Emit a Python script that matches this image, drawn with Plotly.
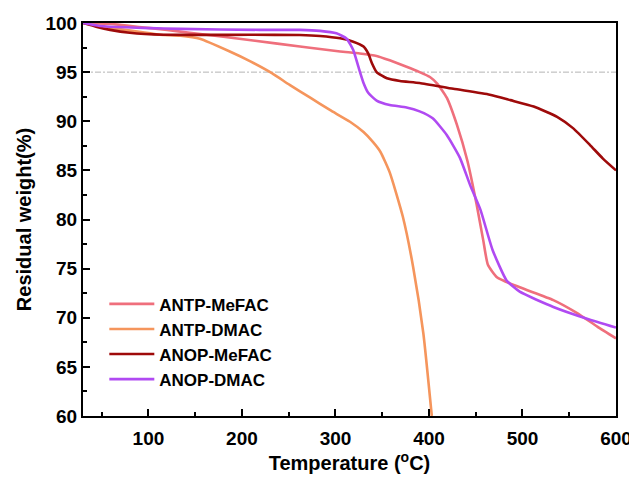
import plotly.graph_objects as go

# ANTP-MeFAC
antp_mefac_x = [30, 60, 90, 120, 144, 180, 214, 262, 283.5, 305, 326, 344, 358, 376, 390, 401, 409, 419, 430, 441, 451, 458, 463, 473, 497, 533, 558, 580, 600]
antp_mefac_y = [100, 99.9, 99.6, 99.3, 99.0, 98.6, 98.2, 97.6, 97.35, 97.1, 96.9, 96.65, 96.2, 95.55, 95.0, 94.5, 93.8, 92.4, 89.6, 86.0, 81.5, 77.9, 75.4, 74.1, 73.1, 71.8, 70.5, 69.1, 67.9]

# ANTP-DMAC
antp_dmac_x = [30, 60, 90, 112, 134, 155, 187, 209, 232, 251, 273, 294, 315.5, 330, 340, 348, 358, 372, 383, 394, 403]
antp_dmac_y = [100, 99.5, 99.1, 98.8, 98.7, 98.4, 97.1, 96.1, 94.9, 93.7, 92.4, 91.15, 89.95, 88.9, 87.9, 86.9, 84.8, 80.3, 75.2, 68.4, 60.0]

# ANOP-MeFAC
anop_mefac_x = [30, 45, 59, 80, 116, 209, 262, 283.5, 305, 319, 330, 335, 339, 344, 355, 369, 390, 426, 465, 487, 512, 537, 554, 572, 586, 600]
anop_mefac_y = [100, 99.6, 99.3, 99.0, 98.8, 98.8, 98.78, 98.68, 98.44, 98.1, 97.6, 96.9, 95.9, 95.0, 94.37, 94.1, 93.9, 93.3, 92.7, 92.15, 91.5, 90.45, 89.3, 87.6, 86.2, 85.0]

# ANOP-DMAC
anop_dmac_x = [30, 48, 134, 219, 262, 283.5, 301, 312, 319, 324.5, 330, 335, 344, 358, 376, 390, 404, 419, 433, 444, 455, 468, 483, 497, 533, 569, 600]
anop_dmac_y = [100, 99.7, 99.4, 99.3, 99.3, 99.2, 98.95, 98.4, 97.25, 95.55, 93.9, 92.9, 92.1, 91.65, 91.4, 91.0, 90.3, 88.6, 86.3, 83.5, 81.0, 76.9, 73.8, 72.65, 71.1, 69.9, 69.0]

series_names = ["ANTP-MeFAC", "ANTP-DMAC", "ANOP-MeFAC", "ANOP-DMAC"]
series_colors = ["#EF6F7C", "#F5955C", "#9E0A0A", "#B04AF2"]

x_ticks = [100, 200, 300, 400, 500, 600]
y_ticks = [60, 65, 70, 75, 80, 85, 90, 95, 100]
ref_level = 95

FONT = "Arial, Liberation Sans, sans-serif"

fig = go.Figure()

# reference dashed line at 95%
fig.add_trace(go.Scatter(x=[30, 600], y=[ref_level, ref_level], mode="lines",
                         line=dict(color="#B5B5B5", width=1, dash="6px,2px,2px,2px"),
                         showlegend=False, hoverinfo="skip"))

data = [(antp_mefac_x, antp_mefac_y), (antp_dmac_x, antp_dmac_y),
        (anop_mefac_x, anop_mefac_y), (anop_dmac_x, anop_dmac_y)]
for (xs, ys), name, color in zip(data, series_names, series_colors):
    fig.add_trace(go.Scatter(x=xs, y=ys, mode="lines", name=f"<b>{name}</b>",
                             line=dict(color=color, width=2.6, shape="spline", smoothing=0.5)))

# the page places the figure 8px from the top-left corner, so the figure is 8px smaller
fig.update_layout(
    width=629, height=471,
    margin=dict(l=75, r=21, t=15, b=63),
    paper_bgcolor="white", plot_bgcolor="white",
    font=dict(family=FONT, color="black"),
    showlegend=True,
    legend=dict(x=0.04, y=0.33, xanchor="left", yanchor="top",
                bgcolor="rgba(0,0,0,0)", itemwidth=45,
                font=dict(family=FONT, size=17, color="black"),
                tracegroupgap=0),
)

fig.update_xaxes(
    range=[30, 600], tickvals=x_ticks, ticktext=[f"<b>{v}</b>" for v in x_ticks],
    ticks="inside", ticklen=7, tickwidth=1.5, tickcolor="black",
    minor=dict(ticks="inside", ticklen=4, tickwidth=1.5, tickcolor="black", dtick=50, tick0=0, showgrid=False),
    showline=True, linecolor="black", linewidth=2, mirror=True,
    showgrid=False, zeroline=False, automargin=False, ticklabelstandoff=4,
    tickfont=dict(family=FONT, size=19, color="black"),
    title=dict(text="<b>Temperature (<sup>o</sup>C)</b>", font=dict(family=FONT, size=20, color="black"), standoff=6),
)
fig.update_yaxes(
    range=[60, 100], tickvals=y_ticks, ticktext=[f"<b>{v}</b>" for v in y_ticks],
    ticks="inside", ticklen=7, tickwidth=1.5, tickcolor="black",
    minor=dict(ticks="inside", ticklen=4, tickwidth=1.5, tickcolor="black", dtick=2.5, tick0=0, showgrid=False),
    showline=True, linecolor="black", linewidth=2, mirror=True,
    showgrid=False, zeroline=False, automargin=False,
    tickfont=dict(family=FONT, size=19, color="black"),
    title=dict(text="<b>Residual weight(%)</b>", font=dict(family=FONT, size=20, color="black"), standoff=8),
)

fig.write_html("out.html")
